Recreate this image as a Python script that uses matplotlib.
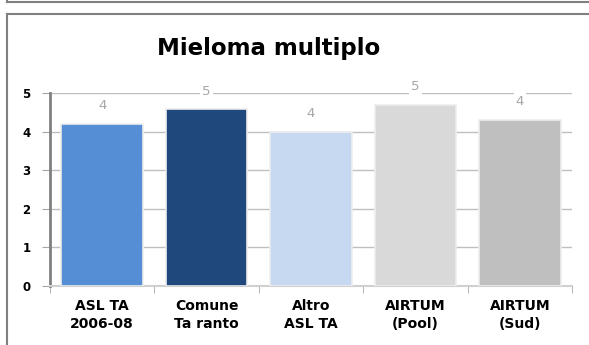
import numpy as np
import matplotlib.pyplot as plt
from matplotlib.lines import Line2D

# dati del grafico
categorie = ['ASL TA\n2006-08', 'Comune\nTa ranto', 'Altro\nASL TA', 'AIRTUM\n(Pool)', 'AIRTUM\n(Sud)']
valori = [4.2, 4.58, 4.0, 4.69, 4.3]
etichette = ['4', '5', '4', '5', '4']
colori = ['#558ED5', '#1F497D', '#C6D9F1', '#D9D9D9', '#BFBFBF']

W, H = 589, 345
fig = plt.figure(figsize=(W / 100, H / 100), dpi=100)

# cornici (bordi dei riquadri)
def px(x, y):
    return x / W, 1 - y / H

fig.add_artist(Line2D([px(7, 0)[0], 1], [px(0, 2)[1]] * 2, color='#808080', lw=1.5))
fig.add_artist(Line2D([px(7, 0)[0]] * 2, [1, px(0, 2)[1]], color='#808080', lw=1.5))
fig.add_artist(Line2D([px(7, 0)[0], 1], [px(0, 14)[1]] * 2, color='#808080', lw=1.5))
fig.add_artist(Line2D([px(7, 0)[0]] * 2, [px(0, 14)[1], 0], color='#808080', lw=1.5))

ax = fig.add_axes([50 / W, 1 - 286 / H, (572 - 50) / W, (286 - 93) / H])
x = np.arange(len(categorie))

ax.bar(x, valori, width=0.78, color=colori, edgecolor='#EDEDED', linewidth=1.2, zorder=3)

for xi, v, t in zip(x, valori, etichette):
    ax.annotate(t, (xi, v), xytext=(0, 13), textcoords='offset points',
                ha='center', va='center', fontsize=9.5, color='#A6A6A6',
                bbox=dict(facecolor='white', edgecolor='none', pad=1.5), zorder=5)

ax.set_xlim(-0.5, 4.5)
ax.set_ylim(0, 5)
ax.set_yticks(range(6))
ax.set_xticks(x)
ax.set_xticklabels(categorie, fontsize=10, fontweight='bold', linespacing=1.45)
ax.set_xticks(np.arange(-0.5, 5, 1), minor=True)
ax.tick_params(axis='x', which='major', length=0, pad=9)
ax.tick_params(axis='x', which='minor', length=5, color='#A6A6A6', direction='out')
ax.tick_params(axis='y', length=6, color='#A6A6A6', labelsize=8.5, pad=8)
for lab in ax.get_yticklabels():
    lab.set_fontweight('bold')

ax.grid(axis='y', color='#BFBFBF', linewidth=1, zorder=0)
for s in ['top', 'right']:
    ax.spines[s].set_visible(False)
ax.spines['left'].set_color('#808080')
ax.spines['left'].set_linewidth(2)
ax.spines['bottom'].set_color('#D0D0D0')
ax.spines['bottom'].set_linewidth(1.5)

fig.text(0.5 * (152 + 385) / W, 1 - 48 / H, 'Mieloma multiplo', ha='center', va='center',
         fontsize=16.5, fontweight='bold')

plt.savefig('out.png', dpi=100)
